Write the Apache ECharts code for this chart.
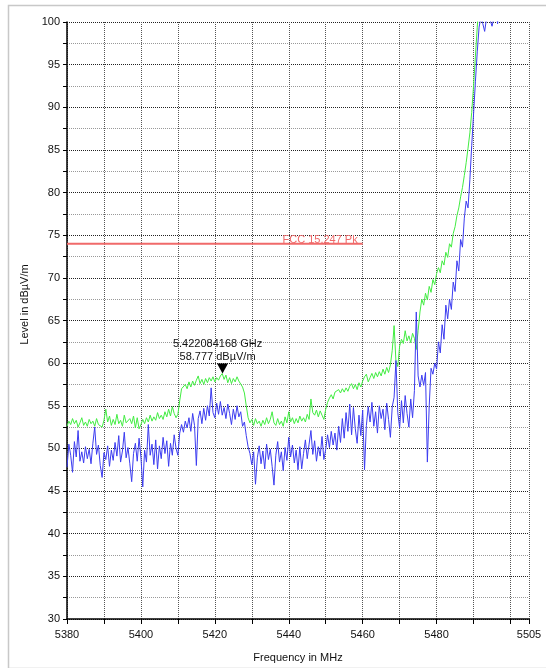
<!DOCTYPE html>
<html><head><meta charset="utf-8">
<script src="https://cdn.jsdelivr.net/npm/echarts@6/dist/echarts.min.js"></script>
<style>html,body{margin:0;padding:0;background:#fff}#c{width:546px;height:668px}</style>
</head><body><div id="c"></div>
<script>
// Frequency grid of the trace samples (MHz)
const freqStart = 5380;
const freqStep = 0.5;

// Peak trace (green), dBµV/m
const peakTrace = [
52.6,53.2,52.8,53.5,52.9,53.3,52.5,53.0,53.6,52.7,
53.1,52.6,53.4,52.9,53.2,52.6,53.5,52.8,53.0,52.5,
53.3,54.6,53.1,53.8,52.7,53.4,52.8,54.0,52.9,53.3,
52.6,53.9,53.0,52.8,53.5,52.9,53.8,52.4,53.6,52.3,
52.8,53.4,52.9,53.6,53.1,53.9,53.2,53.7,53.3,54.2,
53.5,53.9,53.4,54.3,53.7,54.6,53.8,54.9,54.1,53.6,
54.0,55.6,57.0,56.8,57.5,57.0,57.8,57.2,57.9,57.4,
58.0,58.5,57.6,58.1,57.5,58.2,57.7,58.3,57.9,58.4,
57.8,58.3,58.0,58.5,58.78,58.1,58.6,57.7,58.3,57.6,
58.2,57.8,58.4,57.9,58.0,57.2,56.5,55.0,53.6,53.0,
53.4,52.7,53.5,52.9,53.2,52.6,53.3,52.8,53.6,52.9,
53.4,54.3,53.0,52.7,53.5,52.8,53.2,52.6,53.7,53.0,
54.3,53.1,53.6,52.9,53.5,53.0,53.8,53.2,53.6,53.1,
54.0,53.4,55.8,54.2,53.9,54.5,53.7,54.4,53.9,53.4,
54.6,55.4,55.9,56.3,55.8,56.6,56.4,56.9,56.5,57.0,
56.6,57.1,56.7,57.3,57.6,57.0,57.5,56.9,57.7,57.2,
57.9,58.4,58.7,57.8,58.3,58.8,58.2,58.9,58.4,59.0,
58.5,59.3,58.7,59.5,58.9,59.8,61.5,64.4,60.2,59.6,
62.0,62.8,62.3,63.8,62.6,63.2,62.4,63.5,62.9,61.6,
63.8,66.0,67.5,66.8,68.2,67.4,69.0,68.3,69.8,69.2,
70.5,71.2,70.6,72.0,71.5,73.0,72.4,74.0,73.6,75.2,
76.0,77.3,78.2,79.5,80.6,82.0,83.5,85.2,87.0,89.4,
92.5,96.0,99.4,102.5,105
];

// Average trace (blue), dBµV/m
const avgTrace = [
47.8,50.5,49.2,47.2,50.8,49.0,52.1,48.5,49.6,48.3,
50.2,48.8,49.9,48.2,50.6,52.5,49.3,50.4,48.0,46.6,
49.5,48.7,50.3,47.9,49.8,48.6,50.7,49.1,51.5,48.4,
49.7,51.9,48.9,50.1,48.2,46.1,49.4,50.6,48.5,51.2,
49.0,45.5,49.8,48.4,52.8,49.2,50.5,48.1,51.0,47.6,
50.3,48.8,51.3,49.4,50.9,47.9,50.6,49.2,51.6,50.0,
49.2,51.8,52.8,51.9,53.2,52.4,53.6,52.0,54.1,52.7,
48.0,53.5,54.4,52.9,54.7,53.3,55.0,53.8,57.1,54.2,
53.6,55.3,54.0,55.5,53.9,54.8,53.5,55.2,54.1,52.8,
54.6,53.4,55.0,53.7,54.3,52.6,53.1,51.5,50.2,49.4,
48.1,49.6,45.8,48.9,50.3,48.2,49.7,47.6,50.5,48.7,
49.9,47.9,45.7,49.2,50.8,48.4,49.6,47.4,50.1,48.6,
51.3,49.0,50.4,48.3,49.8,47.5,50.2,47.6,49.4,51.0,
48.8,50.5,52.1,49.3,50.9,48.5,50.2,49.1,51.4,48.7,
49.9,51.6,50.1,52.0,50.4,51.8,49.8,52.6,50.7,53.5,
51.2,54.2,52.0,55.2,51.6,54.8,52.3,50.6,53.9,51.5,
54.5,47.5,52.7,54.9,53.1,55.4,52.6,54.3,51.8,55.0,
53.5,54.6,52.2,55.3,53.4,51.3,54.9,56.0,60.3,54.2,
52.4,55.6,53.0,56.2,54.1,52.5,55.8,53.6,56.8,66.0,
58.5,57.2,58.6,57.4,58.9,48.4,55.0,59.4,58.7,60.0,
59.3,62.5,61.2,64.5,62.8,66.8,65.2,67.5,66.3,69.5,
68.4,72.0,70.8,74.5,73.6,77.0,79.0,78.2,81.5,85.5,
89.2,93.0,96.5,99.4,100.6,99.8,98.9,100.4,101.0,100.2,
99.5,100.5,101.5,99.8,102
];

// Limit line
const limitName = 'FCC 15.247 Pk';
const limitFreqs = [5380, 5460];
const limitLevel = 74;

// Marker
const markerFreqMHz = 5422.084168;
const markerLevel = 58.777;

// Axes
const xMin = 5380, xMax = 5505, xStep = 10;
const xTickLabels = [5380, 5400, 5420, 5440, 5460, 5480, 5505];
const yMin = 30, yMax = 100, yStep = 5;

const toPairs = arr => arr.map((v, i) => [freqStart + i * freqStep, v]);

const FONT = 'Liberation Sans, Arial, sans-serif';
const chart = echarts.init(document.getElementById('c'), null, {renderer: 'canvas'});

chart.setOption({
  animation: false,
  backgroundColor: '#fff',
  graphic: [{
    type: 'rect', left: 6, top: 3, shape: {width: 560, height: 663},
    style: {fill: 'none', stroke: '#c8c8c8', lineWidth: 1.5}, silent: true
  }],
  grid: {left: 67, right: 17, top: 22, bottom: 43, containLabel: false},
  xAxis: {
    type: 'value', min: xMin, max: xMax, interval: xStep,
    name: 'Frequency in MHz', nameLocation: 'middle', nameGap: 33,
    nameTextStyle: {fontFamily: FONT, fontSize: 11, color: '#111'},
    axisLine: {show: true, onZero: false, lineStyle: {color: '#000', width: 1.5}},
    axisTick: {show: true, inside: false, length: 5, lineStyle: {color: '#000', width: 1}},
    axisLabel: {
      fontFamily: FONT, fontSize: 11, color: '#111', margin: 10,
      showMinLabel: true, showMaxLabel: true, hideOverlap: false,
      formatter: v => (xTickLabels.indexOf(Math.round(v)) >= 0 ? String(Math.round(v)) : '')
    },
    splitLine: {show: true, lineStyle: {color: '#555', type: [1, 1], width: 1}}
  },
  yAxis: {
    type: 'value', min: yMin, max: yMax, interval: yStep,
    name: 'Level in dBµV/m', nameLocation: 'middle', nameGap: 35, nameRotate: 90,
    nameTextStyle: {fontFamily: FONT, fontSize: 11, color: '#111', padding: [0, 0, 0, 32]},
    axisLine: {show: true, lineStyle: {color: '#000', width: 1.5}},
    axisTick: {show: true, length: 4, lineStyle: {color: '#000', width: 1}},
    minorTick: {show: true, splitNumber: 2, length: 4, lineStyle: {color: '#000', width: 1}},
    axisLabel: {fontFamily: FONT, fontSize: 11, color: '#111', margin: 7},
    splitLine: {show: true, lineStyle: {color: '#222', type: [1, 1], width: 1}},
    minorSplitLine: {show: true, lineStyle: {color: '#999', type: [1, 1], width: 1}}
  },
  series: [
    {
      name: limitName, type: 'line', symbol: 'none', z: 3,
      lineStyle: {color: '#f06a6a', width: 2},
      data: limitFreqs.map(f => [f, limitLevel]),
      endLabel: {
        show: true, formatter: limitName, color: '#f06a6a', fontFamily: FONT, fontSize: 11,
        align: 'right', verticalAlign: 'bottom', distance: 0, offset: [-5, 2]
      }
    },
    {
      name: 'Peak', type: 'line', symbol: 'none', showSymbol: false, z: 4,
      lineStyle: {color: '#42ec42', width: 1},
      data: toPairs(peakTrace),
      markPoint: {
        symbol: 'triangle', symbolRotate: 180, symbolSize: [11, 10], symbolOffset: [0, -5],
        itemStyle: {color: '#000'},
        label: {
          show: true, position: 'top', distance: 5, offset: [-5, 5],
          color: '#111', fontFamily: FONT, fontSize: 11, lineHeight: 13, align: 'center',
          formatter: () => (markerFreqMHz / 1000).toFixed(9) + ' GHz\n' + markerLevel.toFixed(3) + ' dBµV/m'
        },
        data: [{coord: [markerFreqMHz, markerLevel]}]
      }
    },
    {
      name: 'Average', type: 'line', symbol: 'none', showSymbol: false, z: 5,
      lineStyle: {color: '#3c3cf0', width: 1},
      data: toPairs(avgTrace)
    }
  ]
});
</script>
</body></html>
